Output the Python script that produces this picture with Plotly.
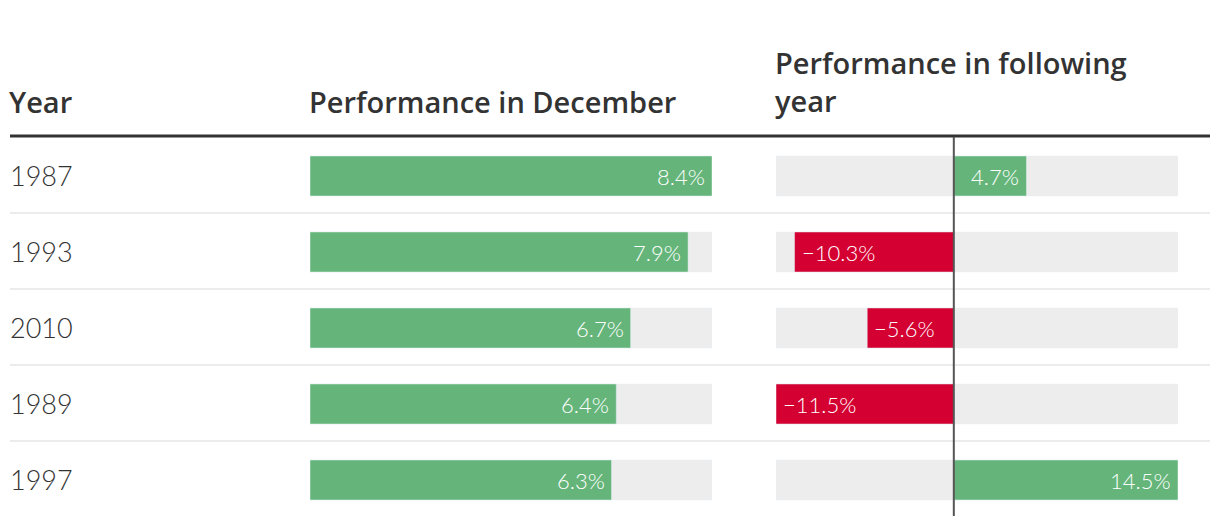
import plotly.graph_objects as go

years = ["1987", "1993", "2010", "1989", "1997"]
december = [8.4, 7.9, 6.7, 6.4, 6.3]
following = [4.7, -10.3, -5.6, -11.5, 14.5]

W, H = 1220, 526
OFF = 8  # page body margin
GREEN = "#65b57a"
RED = "#d40032"
BG = "#ededed"
DARK = "#333333"
NUMFONT = "Lato"
HEADFONT = "Open Sans"

def px_y(p):
    return 1 - (p - OFF) / H

def px_x(p):
    return (p - OFF) / W

def fmt(v):
    s = f"{abs(v):.1f}%"
    return ("\u2212" + s) if v < 0 else s

pos = list(range(len(years)))
dmax = max(december)
fmin, fmax = min(following), max(following)
BW = 40 / 76

fig = go.Figure()
fig.add_trace(go.Bar(y=pos, x=[dmax] * len(years), orientation="h", marker_color=BG,
                     width=BW, xaxis="x", yaxis="y", hoverinfo="skip"))
fig.add_trace(go.Bar(y=pos, x=december, orientation="h", marker_color=GREEN,
                     width=BW, xaxis="x", yaxis="y", hoverinfo="skip"))
fig.add_trace(go.Bar(y=pos, x=[fmin] * len(years), orientation="h", marker_color=BG,
                     width=BW, xaxis="x2", yaxis="y", hoverinfo="skip"))
fig.add_trace(go.Bar(y=pos, x=[fmax] * len(years), orientation="h", marker_color=BG,
                     width=BW, xaxis="x2", yaxis="y", hoverinfo="skip"))
fig.add_trace(go.Bar(y=pos, x=following, orientation="h",
                     marker_color=[GREEN if v >= 0 else RED for v in following],
                     width=BW, xaxis="x2", yaxis="y", hoverinfo="skip"))

vfont = dict(family=NUMFONT, size=22, color="white", weight=300)
ann = []
for p, v in zip(pos, december):
    ann.append(dict(x=v, y=p, xref="x", yref="y", text=fmt(v), showarrow=False,
                    xanchor="right", xshift=-5, font=vfont))
for p, v in zip(pos, following):
    ann.append(dict(x=v, y=p, xref="x2", yref="y", text=fmt(v), showarrow=False,
                    xanchor="right" if v >= 0 else "left", xshift=-5 if v >= 0 else 5,
                    font=vfont))
for p, yr in zip(pos, years):
    ann.append(dict(x=px_x(8), y=p, xref="paper", yref="y", yshift=1, text=yr, showarrow=False,
                    xanchor="left", font=dict(family=NUMFONT, size=27, color="#333333", weight=300)))
hfont = dict(family=HEADFONT, size=29, color="#333333", weight=600)
ann.append(dict(x=px_x(7), y=px_y(101), xref="paper", yref="paper", text="Year",
                showarrow=False, xanchor="left", yanchor="middle", font=hfont))
ann.append(dict(x=px_x(307), y=px_y(101), xref="paper", yref="paper", text="Performance in December",
                showarrow=False, xanchor="left", yanchor="middle", font=hfont))
ann.append(dict(x=px_x(773), y=px_y(82), xref="paper", yref="paper",
                text="Performance in following<br>year", align="left",
                showarrow=False, xanchor="left", yanchor="middle", font=hfont))

shapes = [
    dict(type="line", xref="paper", yref="paper", x0=px_x(10), x1=px_x(1210),
         y0=px_y(136), y1=px_y(136), line=dict(color=DARK, width=3)),
]
for p in [213, 289, 365, 441]:
    shapes.append(dict(type="line", xref="paper", yref="paper", x0=px_x(10), x1=px_x(1210),
                       y0=px_y(p), y1=px_y(p), line=dict(color="#ececec", width=2), layer="below"))
shapes.append(dict(type="line", xref="x2", yref="paper", x0=0, x1=0,
                   y0=px_y(137), y1=px_y(516), line=dict(color="#555555", width=2)))

top_i = (OFF - 176) / 76
bot_i = (OFF + H - 176) / 76

fig.update_layout(
    width=W, height=H,
    margin=dict(l=0, r=0, t=0, b=0),
    paper_bgcolor="white", plot_bgcolor="rgba(0,0,0,0)",
    barmode="overlay", showlegend=False,
    xaxis=dict(domain=[px_x(310), px_x(712)], range=[0, dmax], visible=False, fixedrange=True),
    xaxis2=dict(domain=[px_x(776), px_x(1178)], range=[fmin, fmax], visible=False, fixedrange=True),
    yaxis=dict(range=[bot_i, top_i], visible=False, fixedrange=True),
    annotations=ann, shapes=shapes,
)

fig.write_html("out.html")
